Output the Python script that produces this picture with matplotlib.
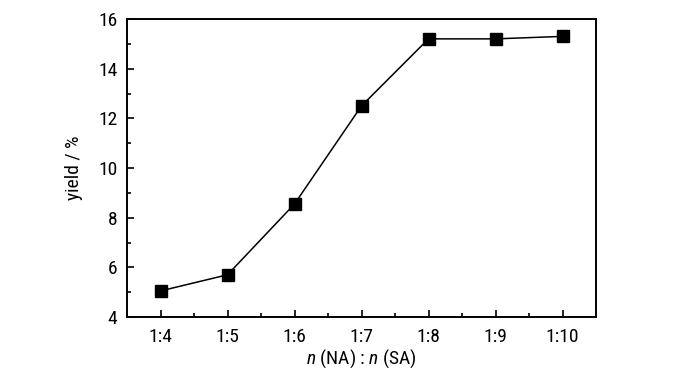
import numpy as np
import matplotlib.pyplot as plt
from matplotlib.ticker import MultipleLocator

ratios = ['1:4', '1:5', '1:6', '1:7', '1:8', '1:9', '1:10']
yields = [5.05, 5.7, 8.55, 12.5, 15.2, 15.2, 15.3]

plt.rcParams['font.family'] = ['Roboto Condensed', 'Liberation Sans', 'DejaVu Sans']
plt.rcParams['font.size'] = 14
plt.rcParams['mathtext.fontset'] = 'custom'
plt.rcParams['mathtext.it'] = 'Roboto Condensed:italic'
plt.rcParams['mathtext.rm'] = 'Roboto Condensed'

fig = plt.figure(figsize=(7, 3.73), dpi=100)
ax = fig.add_axes([127/700, 1 - 317/373, (596-127)/700, (317-19)/373])

x = np.arange(len(ratios))
ax.plot(x, yields, color='black', lw=1.1, marker='s', markersize=8.5)

ax.set_xlim(-0.5, len(ratios) - 0.5)
ax.set_ylim(4, 16)
ax.set_xticks(x)
ax.set_xticklabels(ratios)
ax.set_xticks(x[:-1] + 0.5, minor=True)
ax.yaxis.set_major_locator(MultipleLocator(2))
ax.yaxis.set_minor_locator(MultipleLocator(1))
ax.tick_params(which='both', direction='in', top=False, right=False, width=1.2)
ax.tick_params(which='major', length=5)
ax.tick_params(axis='y', which='major', pad=7)
ax.tick_params(axis='x', which='major', pad=8)
ax.tick_params(which='minor', length=3)
for s in ax.spines.values():
    s.set_linewidth(1.4)

ax.set_ylabel('yield / %', labelpad=11)
ax.set_xlabel(r'$n$ (NA) : $n$ (SA)', labelpad=1)

fig.savefig('out.png', dpi=100)
